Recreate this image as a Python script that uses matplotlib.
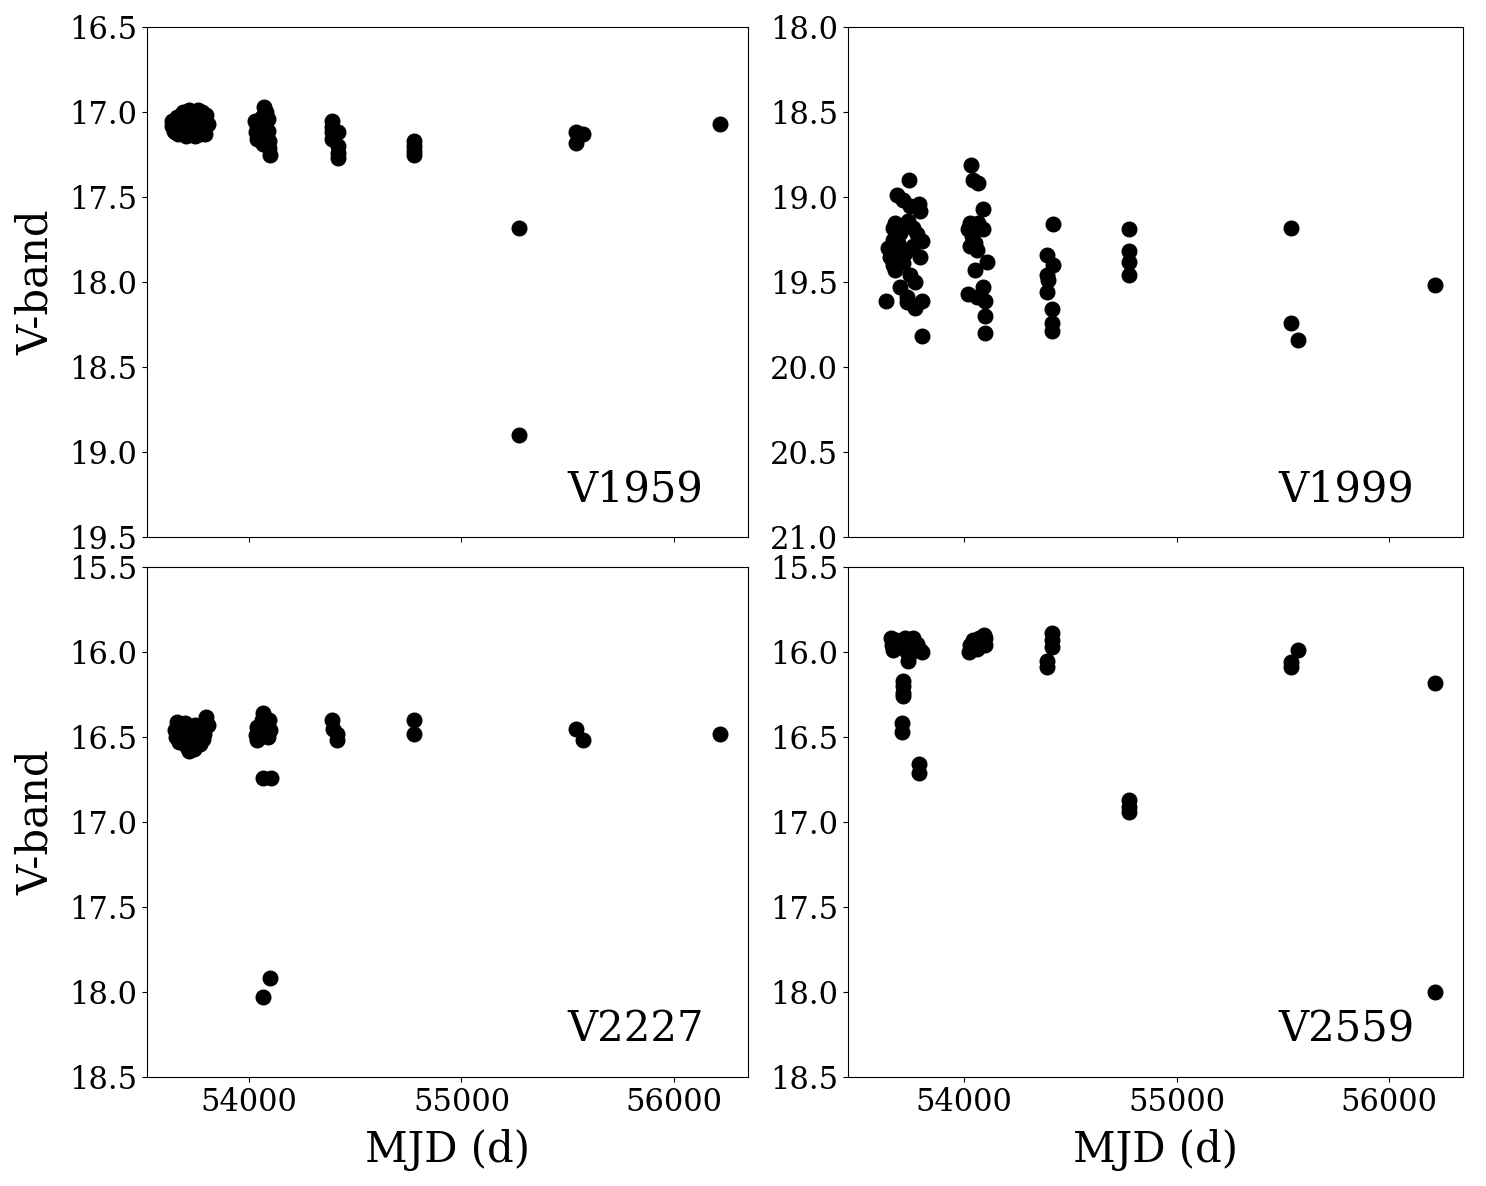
import numpy as np
import matplotlib
matplotlib.use('Agg')
import matplotlib.pyplot as plt

plt.rcParams['font.family'] = 'DejaVu Serif'

# V1959
v1959_mjd = [53640, 53640, 53645, 53660, 53665, 53680, 53690, 53700, 53705, 53720,
             53725, 53730, 53740, 53745, 53750, 53760, 53765, 53770, 53780, 53785,
             53790, 53800, 53805, 53650, 53700, 53735, 53775, 53795,
             54070, 54080, 54030, 54040, 54060, 54090, 54035, 54050, 54070, 54090,
             54040, 54060, 54080, 54095, 54065, 54095, 54100,
             54390, 54390, 54390, 54390, 54420, 54420, 54420, 54420,
             54776, 54776, 54776, 54776,
             55270, 55270, 55540, 55540, 55570, 56216]
v1959_mag = [17.05, 17.08, 17.11, 17.03, 17.13, 17.10, 17.00, 17.06, 17.14, 16.99,
             17.04, 17.09, 17.12, 17.14, 17.02, 16.99, 17.07, 17.13, 17.00, 17.05,
             17.10, 17.02, 17.07, 17.12, 17.03, 17.06, 17.09, 17.13,
             16.97, 17.00, 17.05, 17.08, 17.03, 17.04, 17.12, 17.10, 17.09, 17.11,
             17.16, 17.15, 17.14, 17.17, 17.19, 17.21, 17.25,
             17.05, 17.09, 17.12, 17.16, 17.12, 17.20, 17.24, 17.27,
             17.17, 17.20, 17.23, 17.25,
             17.68, 18.90, 17.12, 17.18, 17.13, 17.07]

# V1999
v1999_mjd = [53743, 53683, 53713, 53788, 53793, 53746, 53675, 53736, 53760, 53666,
             53699, 53801, 53666, 53642, 53652, 53713, 53793, 53760, 53666, 53713,
             53675, 53746, 53769, 53699, 53633, 53730, 53730, 53769, 53801, 53801,
             53690, 53720, 53780,
             54031, 54044, 54067, 54090, 54029, 54067, 54090, 54021, 54036, 54052,
             54029, 54060, 54107, 54052, 54021, 54060, 54090, 54098, 54098, 54098,
             54419, 54389, 54419, 54389, 54395, 54389, 54412, 54412, 54412,
             54776, 54776, 54776, 54776,
             55539, 55539, 55572, 56216]
v1999_mag = [18.90, 18.99, 19.02, 19.04, 19.08, 19.05, 19.15, 19.14, 19.18, 19.18,
             19.21, 19.26, 19.25, 19.30, 19.35, 19.31, 19.35, 19.29, 19.40, 19.39,
             19.43, 19.46, 19.50, 19.53, 19.61, 19.59, 19.62, 19.65, 19.61, 19.82,
             19.27, 19.33, 19.22,
             18.81, 18.90, 18.92, 19.07, 19.15, 19.15, 19.19, 19.19, 19.23, 19.27,
             19.29, 19.31, 19.38, 19.43, 19.57, 19.59, 19.53, 19.61, 19.70, 19.80,
             19.16, 19.34, 19.40, 19.46, 19.49, 19.56, 19.66, 19.74, 19.79,
             19.19, 19.32, 19.38, 19.46,
             19.18, 19.74, 19.84, 19.52]

# V2227
v2227_mjd = [53660, 53650, 53655, 53680, 53690, 53700, 53710, 53720, 53730, 53735,
             53745, 53760, 53770, 53780, 53790, 53800, 53805, 53700, 53740, 53670,
             53750, 53785,
             54066, 54060, 54080, 54040, 54095, 54100, 54035, 54050, 54070, 54090,
             54040, 54066, 54104, 54066, 54098,
             54390, 54395, 54414, 54414,
             54776, 54776,
             55540, 55570, 56216]
v2227_mag = [16.41, 16.46, 16.50, 16.44, 16.48, 16.52, 16.56, 16.58, 16.54, 16.47,
             16.43, 16.50, 16.54, 16.45, 16.48, 16.38, 16.43, 16.42, 16.57, 16.53,
             16.46, 16.51,
             16.36, 16.40, 16.42, 16.44, 16.40, 16.46, 16.49, 16.50, 16.47, 16.50,
             16.52, 16.74, 16.74, 18.03, 17.92,
             16.40, 16.45, 16.48, 16.52,
             16.40, 16.48,
             16.45, 16.52, 16.48]

# V2559
v2559_mjd = [53655, 53660, 53665, 53680, 53700, 53720, 53730, 53735, 53745, 53760,
             53770, 53780, 53795, 53800, 53740, 53690, 53710,
             53713, 53713, 53713, 53713, 53708, 53708, 53788, 53788,
             54025, 54030, 54040, 54055, 54070, 54080, 54095, 54100, 54100, 54060,
             54412, 54412, 54412, 54389, 54389,
             54776, 54776, 54776,
             55540, 55540, 55572, 56216, 56216]
v2559_mag = [15.92, 15.96, 15.99, 15.93, 15.97, 15.92, 16.00, 16.05, 15.95, 15.92,
             15.98, 15.95, 15.99, 16.00, 16.02, 15.94, 15.96,
             16.17, 16.20, 16.24, 16.26, 16.42, 16.47, 16.66, 16.71,
             16.00, 15.96, 15.93, 15.95, 15.92, 15.94, 15.90, 15.92, 15.96, 15.98,
             15.89, 15.93, 15.97, 16.05, 16.09,
             16.87, 16.91, 16.94,
             16.06, 16.09, 15.99, 16.18, 18.00]

names = ['V1959', 'V1999', 'V2227', 'V2559']
mjds = [v1959_mjd, v1999_mjd, v2227_mjd, v2559_mjd]
mags = [v1959_mag, v1999_mag, v2227_mag, v2559_mag]
ylims = [(16.5, 19.5), (18.0, 21.0), (15.5, 18.5), (15.5, 18.5)]
xlims = [(53520, 56348), (53454, 56348), (53520, 56348), (53454, 56348)]

fig, axes = plt.subplots(2, 2, figsize=(14.86, 11.86), dpi=100, sharex='col',
                         gridspec_kw={'width_ratios': [601, 615]})
plt.subplots_adjust(left=0.0989, right=0.9845, top=0.9772, bottom=0.0919,
                    wspace=0.1645, hspace=0.0588)

for i, ax in enumerate(axes.flat):
    ax.plot(mjds[i], mags[i], 'o', color='black', markersize=10.5)
    ax.set_ylim(ylims[i][1], ylims[i][0])
    ax.set_yticks(np.arange(ylims[i][0], ylims[i][1] + 0.01, 0.5))
    ax.set_xlim(*xlims[i])
    ax.set_xticks([54000, 55000, 56000])
    ax.tick_params(labelsize=22)
    ax.text(0.7, 0.07, names[i], transform=ax.transAxes, fontsize=30)

axes[0, 0].set_ylabel('V-band', fontsize=30, labelpad=9)
axes[1, 0].set_ylabel('V-band', fontsize=30, labelpad=9)
axes[1, 0].set_xlabel('MJD (d)', fontsize=30, labelpad=8)
axes[1, 1].set_xlabel('MJD (d)', fontsize=30, labelpad=8)

plt.savefig('out.png')
